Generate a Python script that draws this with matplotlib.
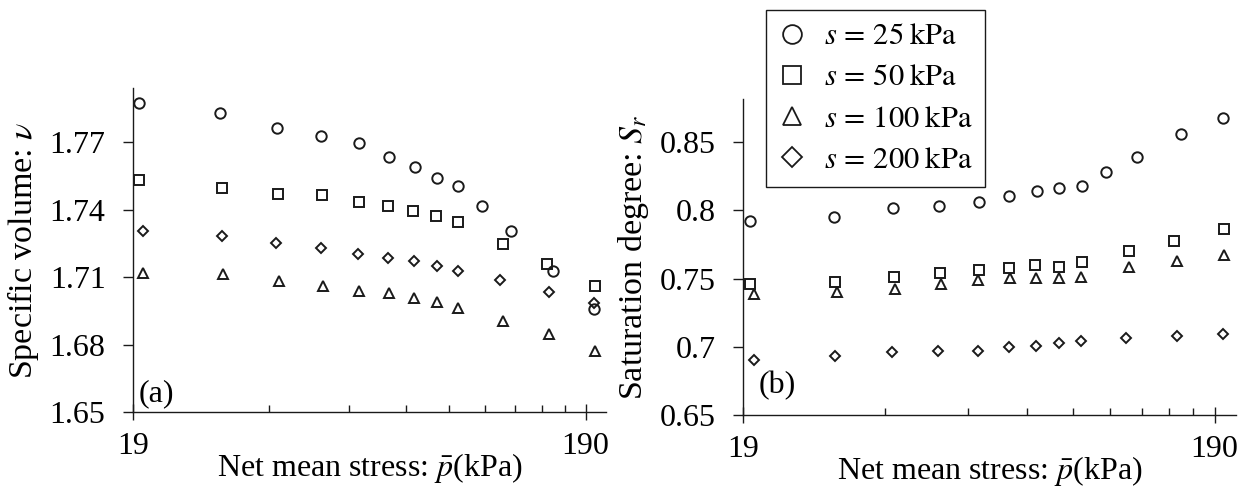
import matplotlib
matplotlib.use("Agg")
import matplotlib.pyplot as plt
from matplotlib.ticker import FixedLocator, NullFormatter, FixedFormatter

plt.rcParams['font.family'] = ['Liberation Serif', 'DejaVu Serif']
plt.rcParams['mathtext.fontset'] = 'stix'

# net mean stress (kPa) for each suction series
p_25 = [19.6, 29.6, 39.5, 49.5, 60.0, 69.7, 79.8, 89.0, 99.5, 112.0, 130.0, 161.0, 198.0]
p_50 = [19.6, 29.8, 39.6, 49.7, 60.0, 69.5, 79.0, 88.8, 99.3, 125.0, 156.0, 199.0]
p_100 = [20.0, 30.0, 39.8, 49.8, 59.8, 69.8, 79.5, 89.0, 99.0, 125.0, 158.0, 199.0]
p_200 = [20.0, 29.8, 39.3, 49.3, 59.7, 69.5, 79.3, 89.0, 99.0, 123.0, 158.0, 198.0]

# (a) specific volume
v_25 = [1.7873, 1.7829, 1.7765, 1.7730, 1.7696, 1.7634, 1.7588, 1.7541, 1.7504, 1.7418, 1.7304, 1.7127, 1.6961]
v_50 = [1.7533, 1.7499, 1.7470, 1.7464, 1.7435, 1.7418, 1.7396, 1.7371, 1.7344, 1.7246, 1.7161, 1.7061]
v_100 = [1.7120, 1.7116, 1.7083, 1.7061, 1.7039, 1.7032, 1.7010, 1.6990, 1.6965, 1.6906, 1.6850, 1.6773]
v_200 = [1.7304, 1.7282, 1.7253, 1.7228, 1.7205, 1.7185, 1.7172, 1.7150, 1.7127, 1.7090, 1.7036, 1.6987]

# (b) saturation degree
sr_25 = [0.7917, 0.7951, 0.8012, 0.8030, 0.8060, 0.8100, 0.8136, 0.8158, 0.8178, 0.8280, 0.8385, 0.8553, 0.8675]
sr_50 = [0.7457, 0.7478, 0.7508, 0.7542, 0.7560, 0.7578, 0.7597, 0.7587, 0.7623, 0.7702, 0.7776, 0.7861]
sr_100 = [0.7386, 0.7399, 0.7424, 0.7460, 0.7487, 0.7502, 0.7502, 0.7502, 0.7508, 0.7587, 0.7630, 0.7674]
sr_200 = [0.6905, 0.6934, 0.6961, 0.6970, 0.6970, 0.6999, 0.7008, 0.7027, 0.7045, 0.7066, 0.7083, 0.7096]

labels = [r'$s\,=\,25\;\mathrm{kPa}$', r'$s\,=\,50\;\mathrm{kPa}$',
          r'$s\,=\,100\;\mathrm{kPa}$', r'$s\,=\,200\;\mathrm{kPa}$']
x_major = [19, 190]
x_minor = [38, 57, 76, 95, 114, 133, 152, 171]
v_ticks = [1.65, 1.68, 1.71, 1.74, 1.77]
sr_ticks = [0.65, 0.7, 0.75, 0.8, 0.85]
sr_ticklabels = ['0.65', '0.7', '0.75', '0.8', '0.85']

fig = plt.figure(figsize=(12.51, 4.93), dpi=100)
ax1 = fig.add_axes([0.1066, 0.1637, 0.3779, 0.6572])
ax2 = fig.add_axes([0.5942, 0.1576, 0.3938, 0.6410])

ink = '#1a1a1a'
fs = 23
styles = [dict(marker='o', ms=7.5), dict(marker='s', ms=7.0),
          dict(marker='^', ms=7.5), dict(marker='D', ms=5.5)]


def draw(ax, series, ylim, yticks, yticklabels, ylabel, tag, tagpos):
    handles = []
    for (xs, ys), st, lab in zip(series, styles, labels):
        h, = ax.plot(xs, ys, ls='none', mfc='none', mec=ink, mew=1.4,
                     label=lab, **st)
        handles.append(h)
    ax.set_xscale('log')
    ax.set_xlim(19, 211)
    ax.set_ylim(*ylim)
    ax.xaxis.set_major_locator(FixedLocator(x_major))
    ax.xaxis.set_major_formatter(FixedFormatter(['19', '190']))
    ax.xaxis.set_minor_locator(FixedLocator(x_minor))
    ax.xaxis.set_minor_formatter(NullFormatter())
    ax.set_yticks(yticks)
    ax.set_yticklabels(yticklabels)
    for side in ['top', 'right']:
        ax.spines[side].set_visible(False)
    for side in ['left', 'bottom']:
        ax.spines[side].set_linewidth(1.0)
        ax.spines[side].set_color(ink)
    ax.tick_params(axis='x', which='major', direction='inout', length=12,
                   width=1.0, pad=8, labelsize=fs, color=ink)
    ax.tick_params(axis='x', which='minor', direction='in', length=5,
                   width=1.0, color=ink)
    ax.tick_params(axis='y', direction='out', length=7, width=1.0,
                   pad=13, labelsize=fs, color=ink)
    ax.set_xlabel(r'Net mean stress: $\bar{p}$(kPa)', fontsize=fs, labelpad=-7)
    ax.set_ylabel(ylabel, fontsize=24.5, labelpad=6)
    ax.text(tagpos[0], tagpos[1], tag, transform=ax.transAxes,
            fontsize=fs, va='center', ha='left')
    return handles


draw(ax1, [(p_25, v_25), (p_50, v_50), (p_100, v_100), (p_200, v_200)],
     (1.65, 1.794), v_ticks, ['1.65', '1.68', '1.71', '1.74', '1.77'],
     r'Specific volume: $\nu$', '(a)', (0.012, 0.056))

hs = draw(ax2, [(p_25, sr_25), (p_50, sr_50), (p_100, sr_100), (p_200, sr_200)],
          (0.65, 0.881), sr_ticks, sr_ticklabels,
          r'Saturation degree: $S_r$', '(b)', (0.032, 0.093))

leg = ax2.legend(handles=hs, loc='upper left',
                 bbox_to_anchor=(0.6123, 0.9797), bbox_transform=fig.transFigure,
                 borderaxespad=0, fontsize=22, markerscale=1.8,
                 handlelength=0.9, handletextpad=0.6, labelspacing=0.4,
                 borderpad=0.4, fancybox=False, framealpha=1.0)
leg.get_frame().set_edgecolor(ink)
leg.get_frame().set_linewidth(1.0)
for h in leg.legend_handles:
    h.set_markeredgewidth(1.3)

fig.savefig('out.png', dpi=100)
